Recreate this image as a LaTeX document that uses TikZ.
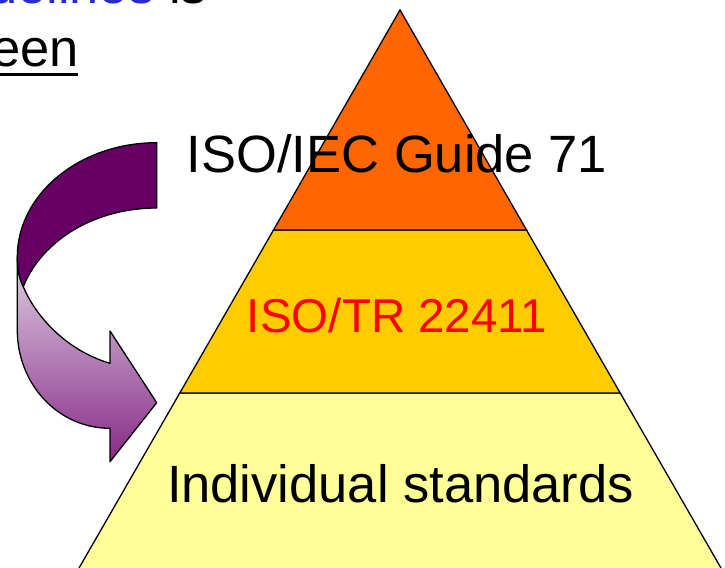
\documentclass[tikz,border=0pt]{standalone}
\usepackage{fontspec}
\setmainfont{Liberation Sans}
\usetikzlibrary{calc}
\definecolor{topband}{HTML}{FF6600}
\definecolor{midband}{HTML}{FFCC00}
\definecolor{lowband}{HTML}{FFFF99}
\definecolor{darkpurple}{HTML}{660066}
\definecolor{lightpurple}{RGB}{222,208,226}
\definecolor{deeppurple}{RGB}{135,42,135}
\definecolor{linkblue}{RGB}{40,40,215}
\definecolor{isored}{HTML}{FF0000}
\tikzset{
  band/.style={draw=black,line width=1.3bp,line join=miter},
  arrowpart/.style={draw=black,line width=1.3bp,line join=round},
  bigtext/.style={inner sep=0pt,outer sep=0pt,anchor=base,font=\fontsize{52.5bp}{62bp}\selectfont},
  midtext/.style={inner sep=0pt,outer sep=0pt,anchor=base,font=\fontsize{47.5bp}{58bp}\selectfont}
}
\begin{document}
\begin{tikzpicture}[x=1bp,y=-1bp]
\useasboundingbox (0,0) rectangle (725,568);
\fill[white] (0,0) rectangle (725,568);
% pyramid corners
\coordinate (apex) at (400,10);
\coordinate (tl) at (273.5,230);
\coordinate (tr) at (526.5,230);
\coordinate (ml) at (179.8,393);
\coordinate (mr) at (620.2,393);
\coordinate (bl) at (75,575);
\coordinate (br) at (725,575);
\path[band,fill=lowband] (ml) -- (mr) -- (br) -- (bl) -- cycle;
\path[band,fill=midband] (tl) -- (tr) -- (mr) -- (ml) -- cycle;
\path[band,fill=topband] (apex) -- (tr) -- (tl) -- cycle;
% curved arrow
\coordinate (a1) at (17.3,257);
\coordinate (a2) at (17.3,330);
\coordinate (a3) at (110,428.3);
\coordinate (a4) at (110,461.7);
\coordinate (tip) at (156.7,402.7);
\coordinate (a5) at (110,331);
\coordinate (a6) at (110,363.3);
\coordinate (a7) at (23.3,286.7);
\coordinate (b1) at (156.7,142.7);
\coordinate (b2) at (156.7,208);
\path[arrowpart,top color=lightpurple,bottom color=deeppurple]
  (a1) -- (a2) .. controls (17.3,384) and (58,428.3) .. (a3) -- (a4) -- (tip) -- (a5) -- (a6)
  .. controls (65,350) and (35,315) .. (a7) .. controls (19,278) and (17.3,268) .. cycle;
\path[arrowpart,fill=darkpurple]
  (b1) .. controls (80,142.7) and (17.3,194) .. (a1) .. controls (17.3,268) and (19,278) .. (a7)
  .. controls (42,240) and (95,208) .. (b2) -- cycle;
% texts
\node[bigtext] (guide) at (397,173) {ISO/IEC Guide 71};
\node[midtext,text=isored] (tr22411) at (397,332.7) {ISO/TR 22411};
\node[bigtext] (indiv) at (400.5,502) {Individual standards};
\node[bigtext,anchor=base east] (line1) at (207,4) {\textcolor{linkblue}{uidelines} is};
\node[bigtext,anchor=base east] (line2) at (79,67) {een};
\draw[line width=2.8bp] ([yshift=-7.5bp]line2.base west) -- ([yshift=-7.5bp,xshift=-1bp]line2.base east);
\end{tikzpicture}
\end{document}
